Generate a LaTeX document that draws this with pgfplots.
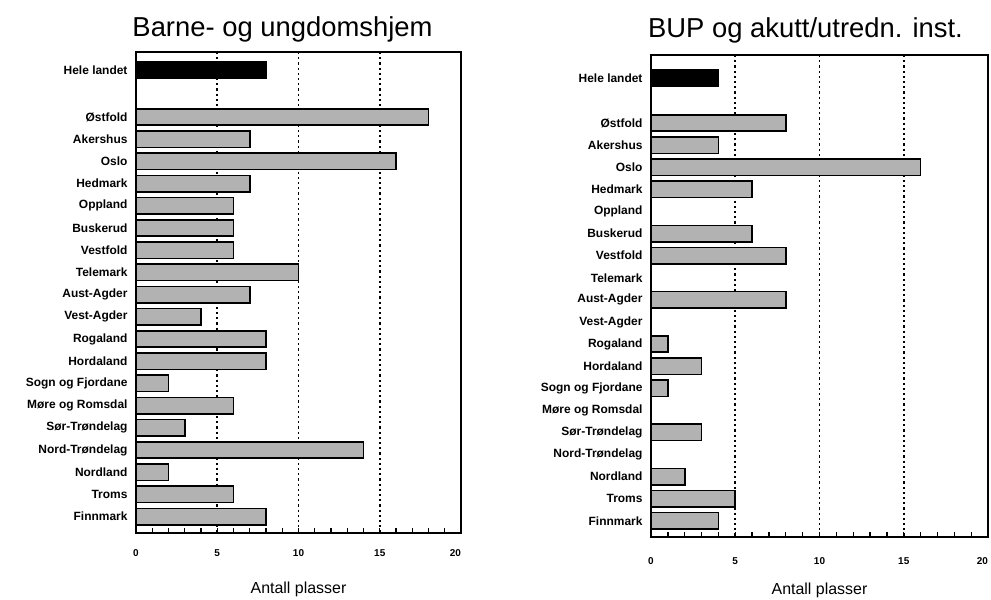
\documentclass[border=0pt]{standalone}
\usepackage{pgfplots}
\pgfplotsset{compat=1.18}
\usepackage{fontspec}
\setmainfont{Liberation Sans}
\begin{document}
\begin{tikzpicture}
\useasboundingbox (0bp,0bp) rectangle (991bp,600bp);
\pgfplotsset{
  myaxis/.style={
    scale only axis,
    xbar,
    y dir=reverse,
    xmin=0, xmax=20,
    xtick={0,5,10,15,20},
    xticklabels={0,5,10,15,\makebox[0pt][r]{20}},
    minor x tick num=4,
    xtick pos=bottom,
    xtick align=inside,
    ytick style={draw=none},
    major tick length=5bp,
    minor tick length=5bp,
    tick style={line width=1.3bp, black},
    axis line style={line width=2bp},
    xmajorgrids,
    major grid style={line width=1.7bp, black, dash pattern=on 2.2bp off 3bp},
    /pgf/number format/assume math mode=true,
    xticklabel style={font=\fontsize{10}{12}\selectfont\bfseries},
    yticklabel style={font=\fontsize{12}{14}\selectfont\bfseries},
    xlabel={Antall plasser},
    xlabel style={font=\fontsize{16}{18}\selectfont},
    title style={font=\fontsize{27.5}{30}\selectfont},
    bar width=0.74,
    bar shift=0pt,
    every axis plot/.append style={draw=black, line width=1.6bp},
  }
}
% Left panel
\begin{axis}[myaxis,
  at={(136bp,67bp)}, anchor=south west,
  width=325bp, height=481bp,
  ymin=-2.93, ymax=18.74,
  ytick={-2.1,0,1,2,3,4,5,6,7,8,9,10,11,12,13,14,15,16,17,18},
  yticklabels={Hele landet,Østfold,Akershus,Oslo,Hedmark,Oppland,Buskerud,Vestfold,Telemark,Aust-Agder,Vest-Agder,Rogaland,Hordaland,Sogn og Fjordane,Møre og Romsdal,Sør-Trøndelag,Nord-Trøndelag,Nordland,Troms,Finnmark},
  xticklabel style={yshift=-13bp},
  xlabel style={yshift=-19bp},
  title={Barne- og ungdomshjem},
  title style={xshift=-16bp, yshift=0bp},
]
\addplot[fill=black] coordinates {(8,-2.1)};
\addplot[fill=black!30] coordinates {
(18,0) (7,1) (16,2) (7,3) (6,4) (6,5) (6,6) (10,7) (7,8) (4,9)
(8,10) (8,11) (2,12) (6,13) (3,14) (14,15) (2,16) (6,17) (8,18)};
\end{axis}
% Right panel
\begin{axis}[myaxis,
  at={(651bp,63bp)}, anchor=south west,
  width=337bp, height=482bp,
  ymin=-3.08, ymax=18.73,
  ytick={-2.04,0,1,2,3,4,5,6,7,8,9,10,11,12,13,14,15,16,17,18},
  yticklabels={Hele landet,Østfold,Akershus,Oslo,Hedmark,Oppland,Buskerud,Vestfold,Telemark,Aust-Agder,Vest-Agder,Rogaland,Hordaland,Sogn og Fjordane,Møre og Romsdal,Sør-Trøndelag,Nord-Trøndelag,Nordland,Troms,Finnmark},
  xticklabel style={yshift=-17bp},
  xlabel style={yshift=-12bp},
  title={BUP og akutt/utredn. inst.},
  title style={xshift=-14bp, yshift=2bp},
]
\addplot[fill=black] coordinates {(4,-2.04)};
\addplot[fill=black!30] coordinates {
(8,0) (4,1) (16,2) (6,3) (6,5) (8,6) (8,8)
(1,10) (3,11) (1,12) (3,14) (2,16) (5,17) (4,18)};
\end{axis}
\end{tikzpicture}
\end{document}
